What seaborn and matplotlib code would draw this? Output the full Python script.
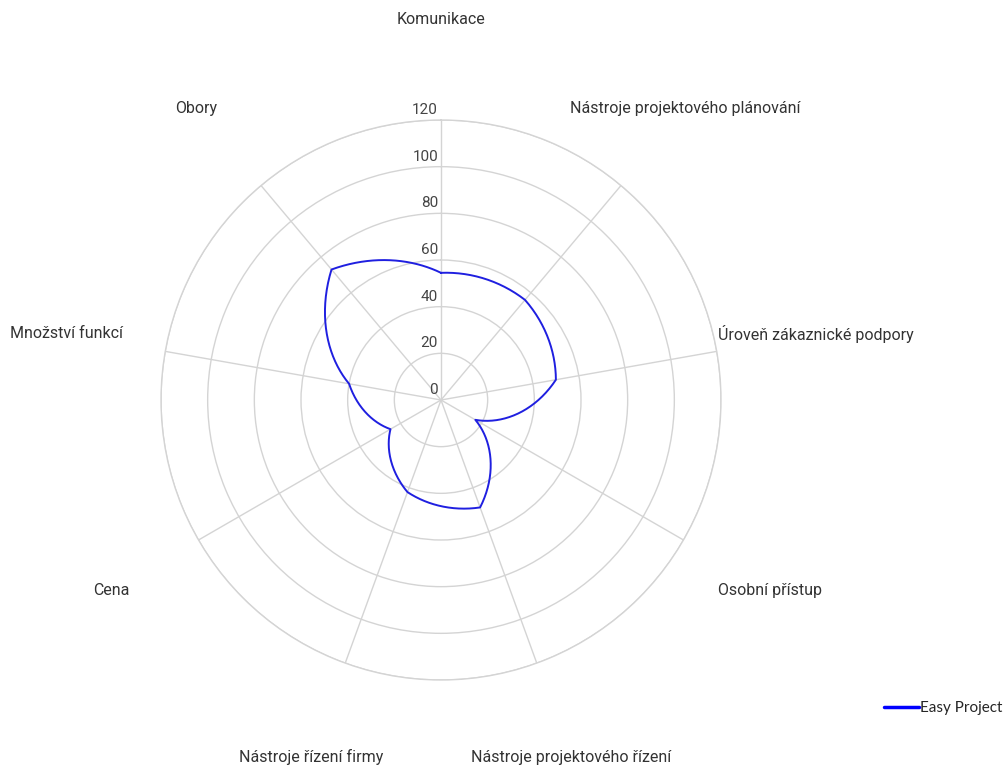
import numpy as np
import matplotlib.pyplot as plt
import matplotlib.transforms as mtransforms
import seaborn as sns

categories = ['Komunikace', 'Nástroje projektového plánování', 'Úroveň zákaznické podpory',
              'Osobní přístup', 'Nástroje projektového řízení', 'Nástroje řízení firmy',
              'Cena', 'Množství funkcí', 'Obory']
values = [54.5, 56, 50, 17, 49, 42, 25, 40, 73]
series_name = 'Easy Project'
r_ticks = [0, 20, 40, 60, 80, 100, 120]

sns.set_theme(style='white')
plt.rcParams['font.family'] = ['Roboto', 'DejaVu Sans']

fig = plt.figure(figsize=(10.08, 7.67), dpi=100)
ax = fig.add_axes([161 / 1008, 87 / 767, 560 / 1008, 560 / 767], projection='polar')
ax.set_theta_zero_location('N')
ax.set_theta_direction(-1)

n = len(categories)
theta = np.arange(n) * 2 * np.pi / n
theta_closed = np.append(theta, theta[0] + 2 * np.pi)
vals_closed = values + values[:1]

ax.set_ylim(0, 120)
ax.set_yticks(r_ticks)
ax.set_yticklabels([])
ax.set_xticks(theta)
ax.set_xticklabels([])
ax.grid(True, color='#d4d4d4', linewidth=1)
ax.spines['polar'].set_color('#d4d4d4')
ax.spines['polar'].set_linewidth(1)

sns.lineplot(x=theta_closed, y=vals_closed, ax=ax, color='#1f1fe0', linewidth=1.4,
             sort=False, estimator=None)
# draw segments in polar space (spiral arcs) like the original
for ln in ax.lines:
    ln.get_path()._interpolation_steps = 60

# radial tick labels along the top spoke
off = mtransforms.offset_copy(ax.transData, fig=fig, x=-3, y=3, units='dots')
for r in r_ticks:
    ax.text(0, r, str(r), transform=off, ha='right', va='bottom', fontsize=11, color='#444444')

# category labels outside the ring
for t, lab in zip(theta, categories):
    ax.text(t, 163, lab, ha='center', va='center', fontsize=11.5, color='#333333', clip_on=False)

# legend
fig.legend(handles=[plt.Line2D([], [], color='#0000ff', linewidth=2.5)], labels=[series_name],
           loc='center left', bbox_to_anchor=(870 / 1008, 1 - 708 / 767), frameon=False,
           handlelength=2.3, handletextpad=0.1, prop={'family': 'Lato', 'size': 11})

plt.savefig('out.png', dpi=100)
